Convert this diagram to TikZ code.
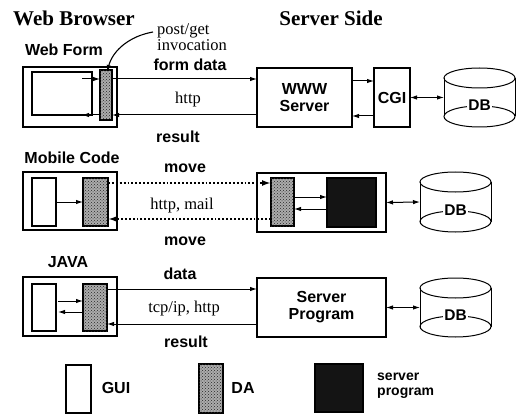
\documentclass[tikz,border=0pt]{standalone}
\usepackage{fontspec}
\setmainfont{Liberation Serif}
\setsansfont{Liberation Sans}
\usetikzlibrary{arrows.meta,patterns}

% database cylinder drawn around an invisible node #1
\newcommand\dbcyl[1]{%
  \draw[line width=1pt] ([yshift=-10pt]#1.north) ellipse [x radius=35.5pt, y radius=10pt];
  \draw[line width=1pt] ([yshift=-10pt]#1.north west) -- ([yshift=10.5pt]#1.south west);
  \draw[line width=1pt] ([yshift=-10pt]#1.north east) -- ([yshift=10.5pt]#1.south east);
  \draw[line width=1pt] ([yshift=10.5pt]#1.south) ellipse [x radius=35.5pt, y radius=10.5pt];
  \node[fill=white, inner sep=1pt, dbtext] (#1-lbl) at ([yshift=22pt]#1.south) {DB};
}

\tikzset{
  title/.style={font=\bfseries\fontsize{21}{22}\selectfont, inner sep=0},
  lbl/.style={font=\sffamily\bfseries\fontsize{16}{17}\selectfont, inner sep=0},
  dbtext/.style={font=\sffamily\bfseries\fontsize{15.5}{16}\selectfont},
  proto/.style={font=\fontsize{16.5}{17}\selectfont, inner sep=0},
  frame/.style={draw, line width=1.1pt, inner sep=0, outer sep=0, anchor=north west},
  gui/.style={frame, fill=white},
  da/.style={frame, fill=gray!65, postaction={pattern=crosshatch dots, pattern color=black!85}},
  sprog/.style={frame, fill=black!92},
  dbnode/.style={inner sep=0, outer sep=0, anchor=north west, minimum width=71pt},
  arr/.style={line width=1pt, -{Latex[length=7pt,width=4.5pt]}},
  darr/.style={line width=1pt, {Latex[length=7pt,width=4.5pt]}-{Latex[length=7pt,width=4.5pt]}},
  mv/.style={line width=1.9pt, dotted, -{Latex[length=9pt,width=6pt]}},
}

\begin{document}
\begin{tikzpicture}[x=1pt, y=-1pt]
\useasboundingbox (0,0) rectangle (516,414);

% ---- column titles ----
\node[title] (tbrowser) at (74,18) {Web Browser};
\node[title] (tserver) at (331,18) {Server Side};

% ---- Web Form row ----
\node[lbl] (twf) at (64,50) {Web Form};
\node[frame, minimum width=94pt, minimum height=60pt] (wf) at (23,67) {};
\node[gui, minimum width=60pt, minimum height=43pt] (gui1) at (32,72) {};
\node[da, minimum width=12pt, minimum height=50pt] (da1) at (100,70) {};
\node[frame, minimum width=95pt, minimum height=59pt, align=center, lbl] (www) at (257,68) {WWW\\Server};
\node[frame, minimum width=36pt, minimum height=59pt, lbl] (cgi) at (374,68) {CGI};
\node[dbnode, minimum height=59pt] (db1) at (444,68) {};
\dbcyl{db1}

\node[proto, align=left, anchor=west, font=\fontsize{16.5}{12}\selectfont] (pg) at (157,37) {post/get\\invocation};
\node[lbl] (tfd) at (190,65) {form data};
\node[proto] (thttp) at (188,100) {http};
\node[lbl] (tres1) at (178,137) {result};

\coordinate (r1a) at (0,79);
\coordinate (r1b) at (0,115);
\coordinate (r1c) at (0,81);
\coordinate (r1d) at (0,116);
\draw[arr] ([xshift=-10pt]gui1.east |- r1a) -- (da1.west |- r1a);
\draw[arr] (da1.west |- r1b) -- ([xshift=-10pt]gui1.east |- r1b);
\draw[arr] (da1.east |- r1a) -- (www.west |- r1a);
\draw[arr] (www.west |- r1b) -- (da1.east |- r1b);
\draw[arr] (www.east |- r1c) -- (cgi.west |- r1c);
\draw[arr] (cgi.west |- r1d) -- (www.east |- r1d);
\draw[darr] (cgi.east) -- (db1.west);
\draw[line width=1.1pt, -{Latex[length=7pt,width=4.5pt]}]
  ([xshift=-4pt,yshift=5pt]pg.west) .. controls (130,36) and (113,50) .. ([xshift=1pt,yshift=-2pt]da1.north);

% ---- Mobile Code row ----
\node[lbl] (tmc) at (72,158) {Mobile Code};
\node[frame, minimum width=94pt, minimum height=58pt] (mc) at (23,172) {};
\node[gui, minimum width=24pt, minimum height=48pt] (gui2) at (32,178) {};
\node[da, minimum width=25pt, minimum height=48pt] (da2) at (83,178) {};
\node[frame, minimum width=129pt, minimum height=59pt] (srv2) at (257,173) {};
\node[da, minimum width=23pt, minimum height=48pt] (da2s) at (271,178) {};
\node[sprog, minimum width=49pt, minimum height=49pt] (sp2) at (327,178) {};
\node[dbnode, minimum height=60pt] (db2) at (420,172) {};
\dbcyl{db2}

\node[lbl] (tmv1) at (185,168) {move};
\node[proto] (thm) at (182,206) {http, mail};
\node[lbl] (tmv2) at (185,241) {move};

\coordinate (r2a) at (0,183);
\coordinate (r2b) at (0,219);
\coordinate (r2c) at (0,197);
\coordinate (r2d) at (0,209);
\draw[arr] (gui2.east) -- (da2.west);
\draw[mv] (da2.east |- r2a) -- (da2s.west |- r2a);
\draw[mv] (da2s.west |- r2b) -- (da2.east |- r2b);
\draw[arr] (da2s.east |- r2c) -- (sp2.west |- r2c);
\draw[arr] (sp2.west |- r2d) -- (da2s.east |- r2d);
\draw[darr] (srv2.east) -- (db2.west);

% ---- JAVA row ----
\node[lbl] (tjava) at (68,262) {JAVA};
\node[frame, minimum width=94pt, minimum height=59pt] (jv) at (23,277) {};
\node[gui, minimum width=24pt, minimum height=47pt] (gui3) at (32,284) {};
\node[da, minimum width=24pt, minimum height=47pt] (da3) at (83,284) {};
\node[frame, minimum width=129pt, minimum height=59pt, align=center, lbl] (srvp) at (257,278) {Server\\Program};
\node[dbnode, minimum height=59pt] (db3) at (420,278) {};
\dbcyl{db3}

\node[lbl] (tdata) at (180,274) {data};
\node[proto] (ttcp) at (184,309) {tcp/ip, http};
\node[lbl] (tres3) at (186,342) {result};

\coordinate (r3a) at (0,301);
\coordinate (r3b) at (0,312);
\coordinate (r3c) at (0,289);
\coordinate (r3d) at (0,324);
\draw[arr] ([xshift=2pt]gui3.east |- r3a) -- (da3.west |- r3a);
\draw[arr] (da3.west |- r3b) -- ([xshift=2pt]gui3.east |- r3b);
\draw[arr] (da3.east |- r3c) -- (srvp.west |- r3c);
\draw[arr] (srvp.west |- r3d) -- (da3.east |- r3d);
\draw[darr] (srvp.east) -- (db3.west);

% ---- legend ----
\node[gui, minimum width=25pt, minimum height=48pt] (lgui) at (66,365) {};
\node[lbl] (tgui) at (116,388) {GUI};
\node[da, minimum width=24pt, minimum height=49pt] (lda) at (199,364) {};
\node[lbl] (tda) at (243,388) {DA};
\node[sprog, minimum width=48pt, minimum height=48pt] (lsp) at (315,364) {};
\node[lbl, align=left, anchor=west, font=\sffamily\bfseries\fontsize{14}{15}\selectfont] (tsp) at (377,386) {server\\program};
\end{tikzpicture}
\end{document}
